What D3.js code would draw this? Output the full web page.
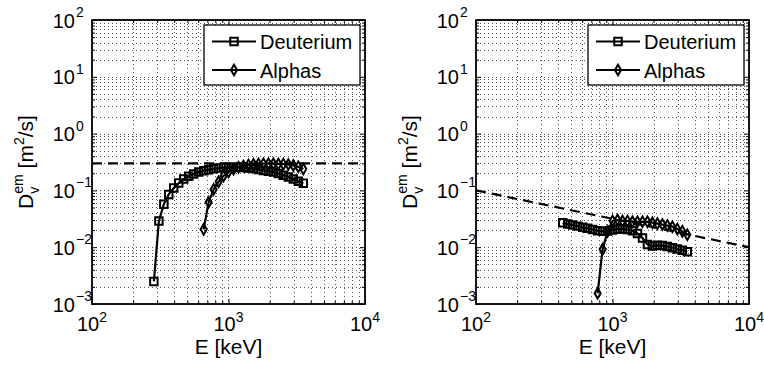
<!DOCTYPE html>
<html>
<head>
<meta charset="utf-8">
<script src="https://cdn.jsdelivr.net/npm/d3@7"></script>
<style>
  html, body { margin: 0; padding: 0; background: #fff; }
  svg { display: block; font-family: "Liberation Sans", Arial, Helvetica, sans-serif; }
</style>
</head>
<body>
<svg id="chart" width="764" height="371"></svg>
<script>
// ---------------- data ----------------
const xTickExponents = [2, 3, 4];
const yTickExponents = [-3, -2, -1, 0, 1, 2];
const seriesNames = ["Deuterium", "Alphas"];
const xLabel = "E [keV]";

// Left panel
const leftDeutE = [284, 309, 336, 365, 397, 432, 470, 511, 556, 605, 658, 715, 778, 846, 920, 1001, 1089, 1184, 1288, 1401, 1524, 1658, 1803, 1961, 2133, 2320, 2523, 2745, 2985, 3247, 3532];
const leftDeutD = [0.0025, 0.029, 0.057, 0.085, 0.11, 0.135, 0.158, 0.178, 0.195, 0.21, 0.222, 0.232, 0.24, 0.247, 0.252, 0.255, 0.256, 0.255, 0.252, 0.248, 0.242, 0.234, 0.225, 0.217, 0.21, 0.198, 0.185, 0.172, 0.158, 0.145, 0.133];
const leftAlphaE = [658, 715, 778, 846, 920, 1001, 1089, 1184, 1288, 1401, 1524, 1658, 1803, 1961, 2133, 2320, 2523, 2745, 2985, 3247, 3532];
const leftAlphaD = [0.0206, 0.062, 0.104, 0.142, 0.18, 0.21, 0.235, 0.255, 0.27, 0.28, 0.288, 0.292, 0.295, 0.295, 0.294, 0.292, 0.29, 0.285, 0.275, 0.26, 0.238];
const leftRefE = [100, 10000];
const leftRefD = [0.3, 0.3];

// Right panel
const rightDeutE = [432, 470, 511, 556, 605, 658, 715, 778, 846, 920, 1001, 1089, 1184, 1288, 1401, 1524, 1658, 1803, 1961, 2133, 2320, 2523, 2745, 2985, 3247, 3532];
const rightDeutD = [0.027, 0.0255, 0.0245, 0.0235, 0.0225, 0.0215, 0.0205, 0.0195, 0.019, 0.0192, 0.02, 0.021, 0.021, 0.0205, 0.0195, 0.0175, 0.0145, 0.0112, 0.0105, 0.0108, 0.0107, 0.0103, 0.0098, 0.0093, 0.0088, 0.0083];
const rightAlphaE = [778, 846, 920, 1001, 1089, 1184, 1288, 1401, 1524, 1658, 1803, 1961, 2133, 2320, 2523, 2745, 2985, 3247, 3532];
const rightAlphaD = [0.00154, 0.0092, 0.019, 0.029, 0.03, 0.029, 0.029, 0.028, 0.028, 0.028, 0.028, 0.027, 0.026, 0.025, 0.024, 0.023, 0.021, 0.019, 0.0165];
const rightRefE = [100, 10000];
const rightRefD = [0.1, 0.01];

// ---------------- layout ----------------
const panels = [
  { ox: 0,   deut: d3.zip(leftDeutE, leftDeutD),   alpha: d3.zip(leftAlphaE, leftAlphaD),   ref: d3.zip(leftRefE, leftRefD) },
  { ox: 384, deut: d3.zip(rightDeutE, rightDeutD), alpha: d3.zip(rightAlphaE, rightAlphaD), ref: d3.zip(rightRefE, rightRefD) }
];

const L = 92, R = 365, T = 20, B = 304;
const svg = d3.select("#chart");

const xMajor = xTickExponents.map(e => Math.pow(10, e));
const yMajor = yTickExponents.map(e => Math.pow(10, e));
function minorsOf(exps) {
  const out = [];
  for (let i = 0; i < exps.length - 1; i++)
    for (let m = 2; m <= 9; m++) out.push(m * Math.pow(10, exps[i]));
  return out;
}
const xMinor = minorsOf(xTickExponents);
const yMinor = minorsOf(yTickExponents);

const sqSym = d3.symbol().type(d3.symbolSquare).size(56);
const diSym = d3.symbol().type(d3.symbolDiamond).size(32);

function fmtExp(e) { return e < 0 ? "\u2212" + Math.abs(e) : String(e); }

panels.forEach(p => {
  const g = svg.append("g").attr("transform", `translate(${p.ox},0)`);
  const x = d3.scaleLog().domain([xMajor[0], xMajor[xMajor.length - 1]]).range([L, R]);
  const y = d3.scaleLog().domain([yMajor[0], yMajor[yMajor.length - 1]]).range([B, T]);

  // grid (dotted, major + minor)
  const grid = g.append("g").attr("stroke", "#555").attr("stroke-width", 1)
    .attr("stroke-dasharray", "1,3").attr("shape-rendering", "crispEdges");
  grid.selectAll("line.gx").data(xMajor.concat(xMinor)).join("line")
    .attr("x1", d => Math.round(x(d)) + 0.5).attr("x2", d => Math.round(x(d)) + 0.5)
    .attr("y1", T).attr("y2", B);
  grid.selectAll("line.gy").data(yMajor.concat(yMinor)).enter().append("line")
    .attr("y1", d => Math.round(y(d)) + 0.5).attr("y2", d => Math.round(y(d)) + 0.5)
    .attr("x1", L).attr("x2", R);

  // reference dashed line
  g.append("path").datum(p.ref)
    .attr("d", d3.line().x(d => x(d[0])).y(d => y(d[1])))
    .attr("fill", "none").attr("stroke", "#000").attr("stroke-width", 2.2)
    .attr("stroke-dasharray", "10,6");

  // series
  const line = d3.line().x(d => x(d[0])).y(d => y(d[1]));
  [[p.deut, sqSym], [p.alpha, diSym]].forEach(([data, sym]) => {
    g.append("path").datum(data).attr("d", line)
      .attr("fill", "none").attr("stroke", "#000").attr("stroke-width", 2.2);
    g.append("g").selectAll("path").data(data).join("path")
      .attr("transform", d => `translate(${x(d[0])},${y(d[1])})`)
      .attr("d", sym).attr("fill", "none").attr("stroke", "#000").attr("stroke-width", 2);
  });

  // axes with inward ticks (all four sides)
  const mk = (axisFn, scale, vals, size, tr) => {
    const a = g.append("g").attr("transform", tr)
      .call(axisFn(scale).tickValues(vals).tickSize(size).tickSizeOuter(0).tickFormat(""));
    a.select(".domain").remove();
    a.selectAll("line").attr("stroke", "#000").attr("stroke-width", 1);
  };
  mk(d3.axisBottom, x, xMajor, -5, `translate(0,${B})`);
  mk(d3.axisBottom, x, xMinor, -3, `translate(0,${B})`);
  mk(d3.axisTop, x, xMajor, -5, `translate(0,${T})`);
  mk(d3.axisTop, x, xMinor, -3, `translate(0,${T})`);
  mk(d3.axisLeft, y, yMajor, -5, `translate(${L},0)`);
  mk(d3.axisLeft, y, yMinor, -3, `translate(${L},0)`);
  mk(d3.axisRight, y, yMajor, -5, `translate(${R},0)`);
  mk(d3.axisRight, y, yMinor, -3, `translate(${R},0)`);

  // box
  g.append("rect").attr("x", L).attr("y", T).attr("width", R - L).attr("height", B - T)
    .attr("fill", "none").attr("stroke", "#000").attr("stroke-width", 1.8);

  // x tick labels
  xTickExponents.forEach(e => {
    const t = g.append("text").attr("x", x(Math.pow(10, e))).attr("y", 331)
      .attr("text-anchor", "middle").attr("font-size", 20).attr("fill", "#000");
    t.append("tspan").text("10");
    t.append("tspan").attr("font-size", 14).attr("dy", -9).text(fmtExp(e));
  });

  // y tick labels
  yTickExponents.forEach(e => {
    const yy = y(Math.pow(10, e));
    g.append("text").attr("x", L - 17).attr("y", yy + 7.5)
      .attr("text-anchor", "end").attr("font-size", 20).attr("fill", "#000").text("10");
    g.append("text").attr("x", L - 16).attr("y", yy - 3)
      .attr("text-anchor", "start").attr("font-size", 14).attr("fill", "#000").text(fmtExp(e));
  });

  // x label
  g.append("text").attr("x", (L + R) / 2).attr("y", 353.5)
    .attr("text-anchor", "middle").attr("font-size", 21).attr("fill", "#000").text(xLabel);

  // y label
  const yl = g.append("text").attr("transform", `translate(33,${(T + B) / 2}) rotate(-90)`)
    .attr("text-anchor", "middle").attr("font-size", 21).attr("fill", "#000");
  yl.append("tspan").text("D");
  yl.append("tspan").attr("font-size", 14).attr("dy", -10).text("em");
  yl.append("tspan").attr("font-size", 14).attr("dx", -19.4).attr("dy", 16).text("v");
  yl.append("tspan").attr("dx", 12.4).attr("dy", -6).text(" [m");
  yl.append("tspan").attr("font-size", 14).attr("dy", -9).text("2");
  yl.append("tspan").attr("dy", 9).text("/s]");

  // legend
  const lg = g.append("g");
  lg.append("rect").attr("x", 204).attr("y", 25).attr("width", 156).attr("height", 60)
    .attr("fill", "#fff").attr("stroke", "#000").attr("stroke-width", 1.3);
  const rows = [41.5, 70];
  [sqSym, diSym].forEach((sym, i) => {
    lg.append("line").attr("x1", 212).attr("x2", 256).attr("y1", rows[i]).attr("y2", rows[i])
      .attr("stroke", "#000").attr("stroke-width", 2.2);
    lg.append("path").attr("transform", `translate(234,${rows[i]})`).attr("d", sym)
      .attr("fill", "none").attr("stroke", "#000").attr("stroke-width", 2);
    lg.append("text").attr("x", 260).attr("y", rows[i] + 7.5).attr("font-size", 20)
      .attr("fill", "#000").text(seriesNames[i]);
  });
});
</script>
</body>
</html>
